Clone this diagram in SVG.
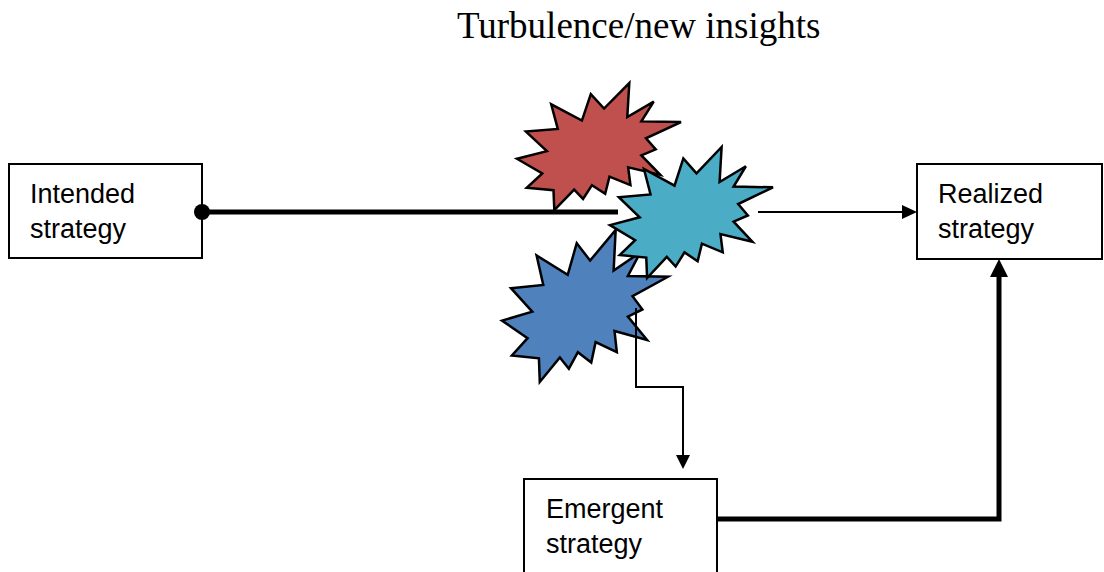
<svg xmlns="http://www.w3.org/2000/svg" xmlns:xlink="http://www.w3.org/1999/xlink" width="1104" height="572" viewBox="0 0 1104 572">
  <style>
    .box { fill: #ffffff; stroke: #000000; stroke-width: 2; }
    .lbl { font-family: "Liberation Sans", Arial, sans-serif; font-size: 27px; fill: #000000; }
    .title { font-family: "Liberation Serif", "Times New Roman", serif; font-size: 37px; fill: #000000; }
    .thick { fill: none; stroke: #000000; stroke-width: 5; }
    .thin { fill: none; stroke: #000000; stroke-width: 2; }
    .head { fill: #000000; stroke: none; }
  </style>
  <defs>
    <polygon id="seal" stroke="#000000" stroke-width="2.5" stroke-linejoin="miter" vector-effect="non-scaling-stroke"
      points="114.62,43.42 97.22,18.87 85.50,63.82 45.02,36.25 53.72,78.17 11.72,82.70 39.35,115.92 0,128.77 33.30,153.70 12.85,178.25 48.05,182.40 49.17,216 75.27,181.25 87.00,197.12 98.72,173.70 116.12,188.42 121.80,159.35 149.42,173.70 146.40,143.50 188.77,156.32 163.80,123.10 182.70,112.90 169.85,94.02 216,66.45 163.80,65.32 180.07,31.72 145.25,57.77 147.90,0"/>
  </defs>

  <text class="title" x="457" y="38">Turbulence/new insights</text>

  <g id="intended">
    <rect class="box" x="9" y="164" width="193" height="94"/>
    <text class="lbl" x="30" y="203">Intended</text>
    <text class="lbl" x="30" y="238">strategy</text>
  </g>
  <g id="realized">
    <rect class="box" x="917" y="164" width="185" height="95"/>
    <text class="lbl" x="938" y="203">Realized</text>
    <text class="lbl" x="938" y="238">strategy</text>
  </g>
  <g id="emergent">
    <rect class="box" x="524" y="479" width="193" height="100"/>
    <text class="lbl" x="546" y="518">Emergent</text>
    <text class="lbl" x="546" y="553">strategy</text>
  </g>

  <g id="turbulence-red">
    <use xlink:href="#seal" href="#seal" fill="#C0504D" transform="translate(517,83) scale(0.7593,0.588)"/>
  </g>
  <g id="turbulence-blue">
    <use xlink:href="#seal" href="#seal" fill="#4F81BD" transform="translate(502,230) scale(0.7685,0.7037)"/>
  </g>
  <g id="turbulence-cyan">
    <use xlink:href="#seal" href="#seal" fill="#4BACC6" transform="translate(610,147) scale(0.7546,0.6065)"/>
  </g>

  <g id="connectors">
    <circle cx="202" cy="212" r="8" fill="#000000"/>
    <line class="thick" x1="202" y1="212" x2="618" y2="212"/>
    <line class="thin" x1="758" y1="212" x2="904" y2="212"/>
    <polygon class="head" points="917,212 902,205 902,219"/>
    <path class="thin" d="M636,308 V387 H683 V456"/>
    <polygon class="head" points="683,469 676,455 690,455"/>
    <path class="thick" d="M717,519 H999 V276" stroke-width="6" stroke-linejoin="miter"/>
    <polygon class="head" points="999,259 990,277 1008,277"/>
  </g>
</svg>
